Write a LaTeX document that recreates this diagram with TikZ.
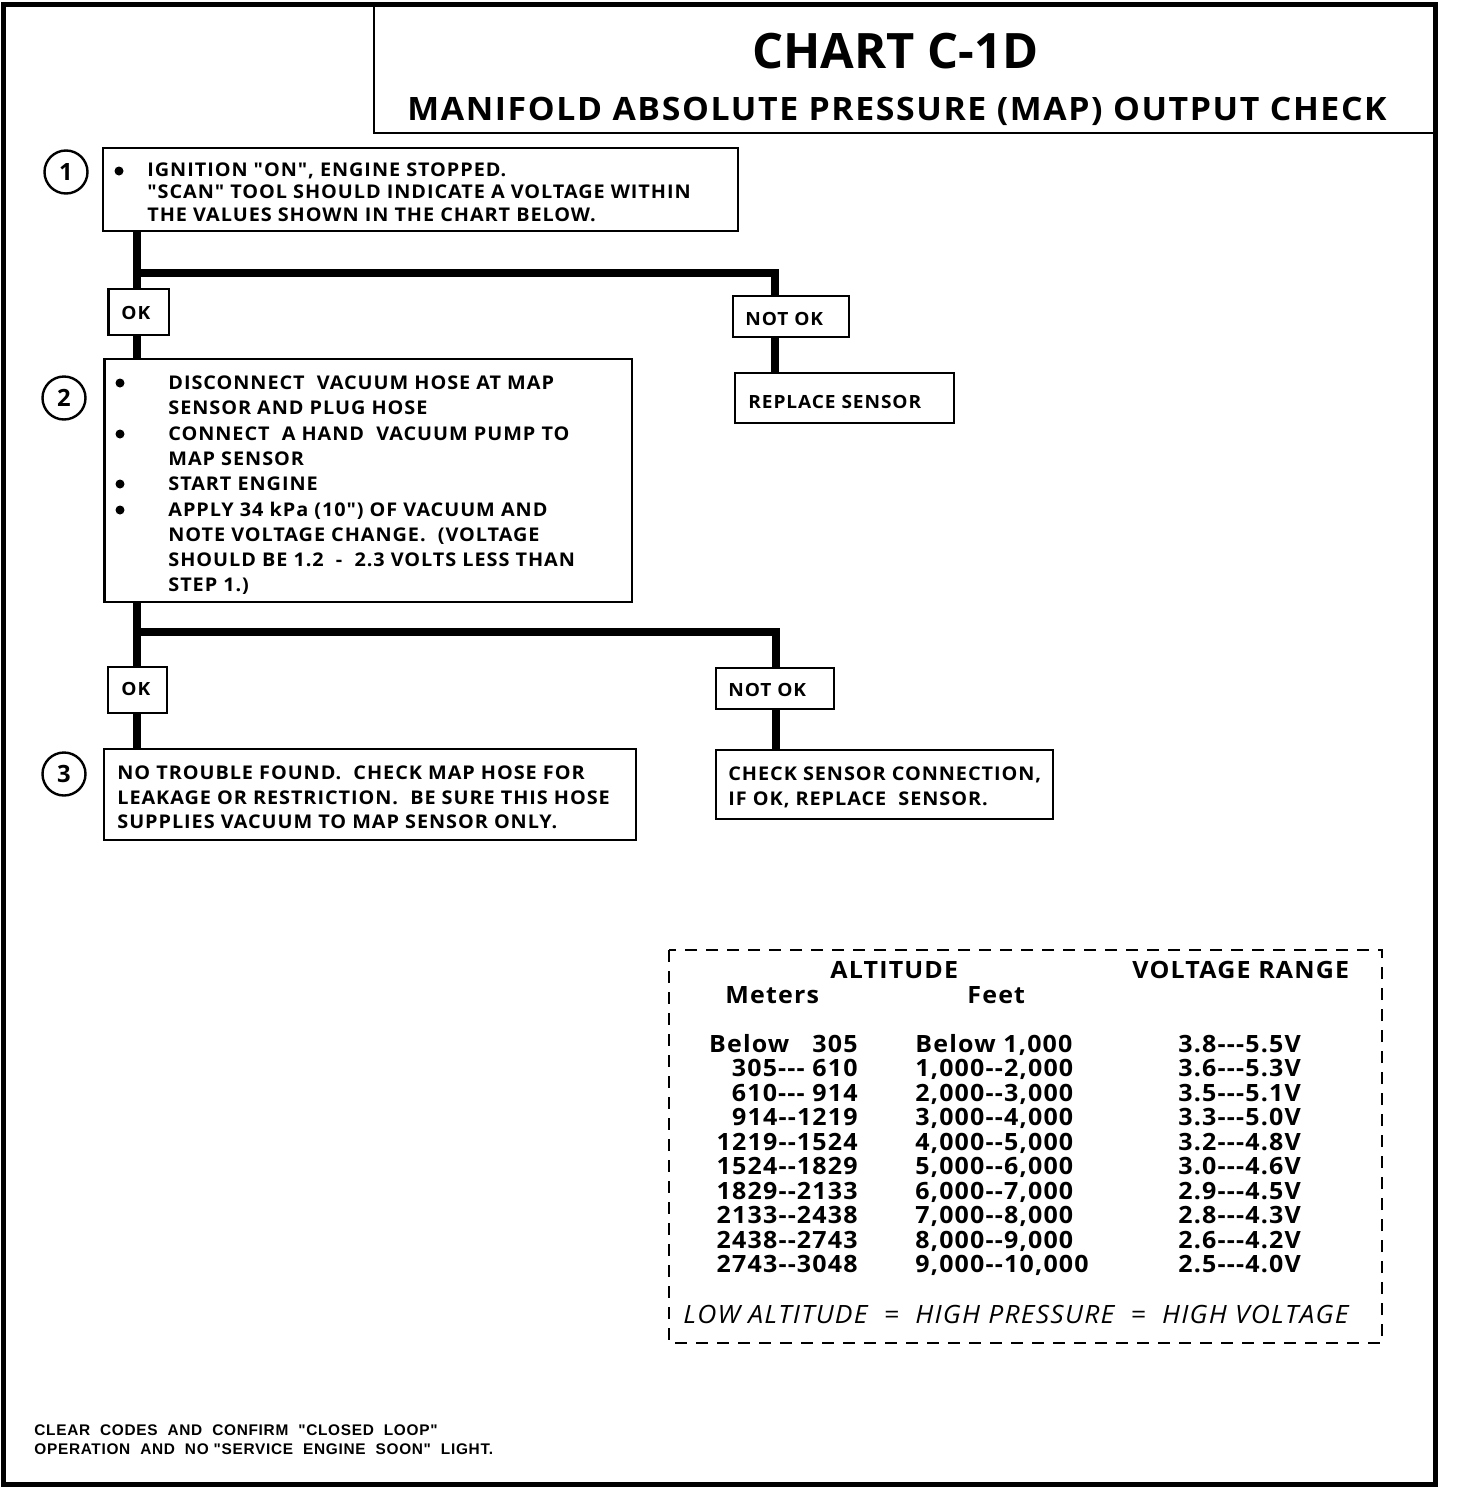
\documentclass[tikz,border=0pt]{standalone}
\usepackage{fontspec}
\setmainfont{Open Sans}
\newfontfamily\cf[FakeStretch=1.05,LetterSpace=5]{Open Sans}
\newfontfamily\tf{Open Sans}
\newfontfamily\nf[LetterSpace=4.5]{Liberation Sans}
\usetikzlibrary{fit}
\begin{document}
\begin{tikzpicture}[x=0.5pt,y=-0.5pt,
  frame/.style={line width=2.5pt},
  thin/.style={line width=1pt},
  boxst/.style={draw, fill=white, line width=1.25pt, inner sep=0pt},
  conn/.style={line width=4pt, line join=miter},
  num/.style={draw, circle, line width=1.2pt, minimum size=21.5pt, inner sep=0pt, font=\tf\bfseries\fontsize{11.9}{12}\selectfont},
  t/.style={inner sep=0pt, anchor=base west, font=\cf\bfseries\fontsize{9.45}{11}\selectfont},
  lab/.style={inner sep=0pt, anchor=base west, font=\cf\bfseries\fontsize{9.1}{11}\selectfont},
  tab/.style={inner sep=0pt, font=\cf\bfseries\fontsize{11.9}{13}\selectfont},
  note/.style={inner sep=0pt, anchor=base west, font=\nf\bfseries\fontsize{7.7}{9}\selectfont},
  bul/.style={circle, fill=black, inner sep=0pt, minimum size=4.5pt},
]
\useasboundingbox (0,0) rectangle (1456,1488);
% frame and title block
\draw[frame] (3,4) rectangle (1435,1484);
\draw[thin] (374,4) -- (374,132.5) -- (1435,132.5);
\node[inner sep=0pt, anchor=base, font=\tf\bfseries\fontsize{24.4}{26}\selectfont] (title1) at (895.5,68) {CHART C-1D};
\node[inner sep=0pt, anchor=base, font=\cf\bfseries\fontsize{16.1}{17}\selectfont] (title2) at (897,120) {MANIFOLD ABSOLUTE PRESSURE (MAP) OUTPUT CHECK};

% junction coordinates
\coordinate (j1a) at (137,273);
\coordinate (j1b) at (775,273);
\coordinate (j2a) at (137,632);
\coordinate (j2b) at (776,632);

% boxes
\node[boxst, fit={(103,148) (738,231)}] (b1) {};
\node[boxst, fit={(108.5,289) (169,335)}] (ok1) {};
\node[boxst, fit={(733,296) (849,337)}] (nok1) {};
\node[boxst, fit={(735,373) (954,423)}] (rep) {};
\node[boxst, fit={(104.5,359) (632,602)}] (b2) {};
\node[boxst, fit={(108,667) (167,713)}] (ok2) {};
\node[boxst, fit={(716,668) (834,709)}] (nok2) {};
\node[boxst, fit={(104,749) (636,840)}] (b3) {};
\node[boxst, fit={(716,750) (1053,819)}] (b4) {};

% connectors
\draw[conn] (b1.south -| j1a) -- (j1a) -- (j1b) -- (j1b |- nok1.north);
\draw[conn] (j1a) -- (ok1.north -| j1a);
\draw[conn] (ok1.south -| j1a) -- (b2.north -| j1a);
\draw[conn] (nok1.south -| j1b) -- (rep.north -| j1b);
\draw[conn] (b2.south -| j2a) -- (j2a) -- (j2b) -- (j2b |- nok2.north);
\draw[conn] (j2a) -- (ok2.north -| j2a);
\draw[conn] (ok2.south -| j2a) -- (b3.north -| j2a);
\draw[conn] (nok2.south -| j2b) -- (b4.north -| j2b);

% step numbers
\node[num] (n1) at (66,172) {1};
\node[num] (n2) at (64,398) {2};
\node[num] (n3) at (64,774) {3};

% box 1 text
\node[bul] (b1d) at (119,171) {};
\node[t] (b1l1) at (147,176) {IGNITION "ON", ENGINE STOPPED.};
\node[t] (b1l2) at (147,198) {"SCAN" TOOL SHOULD INDICATE A VOLTAGE WITHIN};
\node[t] (b1l3) at (147,221) {THE VALUES SHOWN IN THE CHART BELOW.};

% labels
\node[lab] (ok1t) at (121,319) {OK};
\node[lab] (nok1t) at (745,325) {NOT OK};
\node[lab] (rept) at (748,408) {REPLACE SENSOR};
\node[lab] (ok2t) at (121,695) {OK};
\node[lab] (nok2t) at (728,696) {NOT OK};

% box 2 text
\node[bul] (b2d1) at (120,383) {};
\node[bul] (b2d2) at (120,434) {};
\node[bul] (b2d3) at (120,484) {};
\node[bul] (b2d4) at (120,510) {};
\node[t] (b2l1) at (168,389) {DISCONNECT\ \ VACUUM HOSE AT MAP};
\node[t] (b2l2) at (168,414) {SENSOR AND PLUG HOSE};
\node[t] (b2l3) at (168,440) {CONNECT\ \ A HAND\ \ VACUUM PUMP TO};
\node[t] (b2l4) at (168,465) {MAP SENSOR};
\node[t] (b2l5) at (168,490) {START ENGINE};
\node[t] (b2l6) at (168,516) {APPLY 34 kPa (10") OF VACUUM AND};
\node[t] (b2l7) at (168,541) {NOTE VOLTAGE CHANGE.\ \ (VOLTAGE};
\node[t] (b2l8) at (168,566) {SHOULD BE 1.2\ \ -\ \ 2.3 VOLTS LESS THAN};
\node[t] (b2l9) at (168,591) {STEP 1.)};

% box 3 text
\node[t] (b3l1) at (117,779) {NO TROUBLE FOUND.\ \ CHECK MAP HOSE FOR};
\node[t] (b3l2) at (117,804) {LEAKAGE OR RESTRICTION.\ \ BE SURE THIS HOSE};
\node[t] (b3l3) at (117,828) {SUPPLIES VACUUM TO MAP SENSOR ONLY.};

% box 4 text
\node[t] (b4l1) at (728,780) {CHECK SENSOR CONNECTION,};
\node[t] (b4l2) at (728,805) {IF OK, REPLACE\ \ SENSOR.};

% table
\draw[line width=1.25pt, dash pattern=on 6pt off 4.5pt] (669,950) rectangle (1382,1343);
\node[tab, anchor=base west] (hAlt) at (830,978) {ALTITUDE};
\node[tab, anchor=base west] (hVolt) at (1132,978) {VOLTAGE RANGE};
\node[tab, anchor=base west] (hMet) at (725,1003) {Meters};
\node[tab, anchor=base west] (hFeet) at (967,1003) {Feet};
\foreach \m/\f/\v [count=\i from 0] in {
  {Below\ \ \ 305}/{Below 1,000}/{3.8---5.5V},
  {305--- 610}/{1,000--2,000}/{3.6---5.3V},
  {610--- 914}/{2,000--3,000}/{3.5---5.1V},
  {914--1219}/{3,000--4,000}/{3.3---5.0V},
  {1219--1524}/{4,000--5,000}/{3.2---4.8V},
  {1524--1829}/{5,000--6,000}/{3.0---4.6V},
  {1829--2133}/{6,000--7,000}/{2.9---4.5V},
  {2133--2438}/{7,000--8,000}/{2.8---4.3V},
  {2438--2743}/{8,000--9,000}/{2.6---4.2V},
  {2743--3048}/{9,000--10,000}/{2.5---4.0V}} {
  \node[tab, anchor=base east] (m\i) at (858,1052+24.55*\i) {\m};
  \node[tab, anchor=base west] (f\i) at (915,1052+24.55*\i) {\f};
  \node[tab, anchor=base west] (v\i) at (1178,1052+24.55*\i) {\v};
}
\node[inner sep=0pt, anchor=base west, font=\cf\itshape\fontsize{12.6}{14}\selectfont] (foot) at (683,1323) {LOW ALTITUDE\ \ =\ \ HIGH PRESSURE\ \ =\ \ HIGH VOLTAGE};

% bottom note
\node[note] (note1) at (34,1435) {CLEAR\ \ CODES\ \ AND\ \ CONFIRM\ \ "CLOSED\ \ LOOP"};
\node[note] (note2) at (34,1454) {OPERATION\ \ AND\ \ NO "SERVICE\ \ ENGINE\ \ SOON"\ \ LIGHT.};
\end{tikzpicture}
\end{document}
